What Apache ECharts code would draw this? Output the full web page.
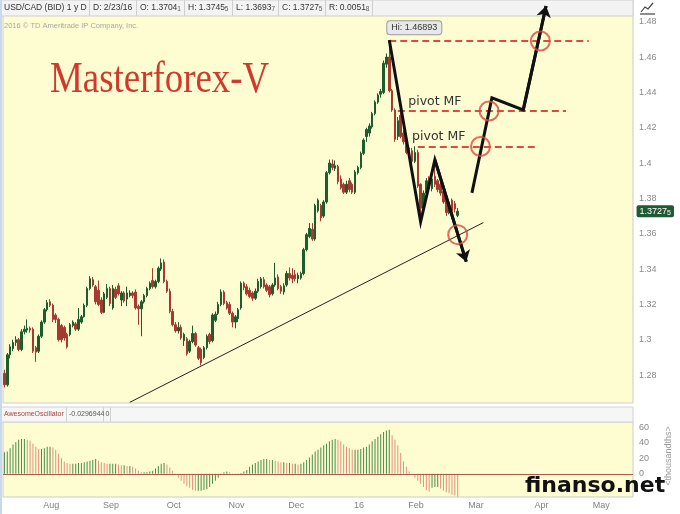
<!DOCTYPE html>
<html>
<head>
<meta charset="utf-8">
<script src="https://cdn.jsdelivr.net/npm/echarts@6/dist/echarts.min.js"></script>
<style>
  html, body { margin: 0; padding: 0; background: #fff; }
  #chart { width: 680px; height: 514px; }
</style>
</head>
<body>
<div id="chart"></div>
<script>
// trading days on the axis (weekdays, minus the two holidays)
var startDay = '2015-07-13', endDay = '2016-05-18';
var skipDays = ['2015-12-25', '2016-01-01'];
var monthLabels = ['Aug', 'Sep', 'Oct', 'Nov', 'Dec', '16', 'Feb', 'Mar', 'Apr', 'May'];
var priceTicks = [1.28, 1.30, 1.32, 1.34, 1.36, 1.38, 1.40, 1.42, 1.44, 1.46, 1.48];
var aoTicks = [0, 20, 40, 60];

// daily candles: open, close, low, high
var candles = [
  [1.2810,1.2745,1.2730,1.2830],[1.2745,1.2915,1.2735,1.2925],[1.2915,1.2960,1.2895,1.2975],[1.2950,1.2985,1.2935,1.3000],
  [1.2985,1.3000,1.2965,1.3020],[1.3000,1.2945,1.2935,1.3010],[1.2945,1.3045,1.2935,1.3060],[1.3045,1.3060,1.3030,1.3080],
  [1.3055,1.3065,1.3040,1.3115],[1.3065,1.3055,1.3040,1.3075],[1.3060,1.2935,1.2925,1.3070],[1.2955,1.2930,1.2875,1.2965],
  [1.2935,1.3020,1.2925,1.3030],[1.3020,1.3100,1.3010,1.3110],[1.3100,1.3170,1.3090,1.3180],[1.3170,1.3210,1.3160,1.3225],
  [1.3215,1.3195,1.3185,1.3230],[1.3195,1.3115,1.3100,1.3205],[1.3140,1.3115,1.3095,1.3150],[1.3115,1.3000,1.2990,1.3125],
  [1.3080,1.3000,1.2985,1.3090],[1.3070,1.3010,1.2995,1.3080],[1.3030,1.2960,1.2950,1.3040],[1.3030,1.3085,1.3020,1.3095],
  [1.3080,1.3100,1.3070,1.3110],[1.3090,1.3060,1.3050,1.3100],[1.3060,1.3115,1.3050,1.3180],[1.3100,1.3130,1.3090,1.3140],
  [1.3130,1.3195,1.3125,1.3205],[1.3195,1.3290,1.3185,1.3300],[1.3290,1.3345,1.3280,1.3360],[1.3340,1.3310,1.3300,1.3355],
  [1.3300,1.3215,1.3200,1.3310],[1.3280,1.3200,1.3190,1.3335],[1.3225,1.3155,1.3145,1.3240],[1.3155,1.3260,1.3150,1.3270],
  [1.3240,1.3290,1.3230,1.3315],[1.3290,1.3205,1.3190,1.3300],[1.3180,1.3290,1.3170,1.3310],[1.3285,1.3240,1.3230,1.3300],
  [1.3305,1.3260,1.3250,1.3320],[1.3225,1.3265,1.3190,1.3275],[1.3265,1.3220,1.3210,1.3275],[1.3230,1.3265,1.3190,1.3300],
  [1.3250,1.3265,1.3240,1.3280],[1.3265,1.3250,1.3235,1.3275],[1.3270,1.3180,1.3170,1.3285],[1.3190,1.3175,1.3085,1.3200],
  [1.3175,1.3215,1.3020,1.3225],[1.3215,1.3250,1.3205,1.3260],[1.3250,1.3290,1.3240,1.3300],[1.3290,1.3320,1.3280,1.3330],
  [1.3335,1.3300,1.3290,1.3405],[1.3300,1.3330,1.3290,1.3340],[1.3330,1.3405,1.3320,1.3415],[1.3400,1.3435,1.3390,1.3460],
  [1.3440,1.3330,1.3320,1.3455],[1.3330,1.3275,1.3265,1.3340],[1.3275,1.3160,1.3150,1.3290],[1.3160,1.3085,1.3075,1.3175],
  [1.3085,1.3050,1.3040,1.3100],[1.3050,1.3070,1.3035,1.3100],[1.3070,1.3010,1.3000,1.3085],[1.2995,1.3030,1.2965,1.3040],
  [1.3005,1.2920,1.2910,1.3015],[1.2935,1.2990,1.2925,1.3000],[1.2990,1.3035,1.2980,1.3080],[1.3035,1.2970,1.2960,1.3045],
  [1.2955,1.2895,1.2885,1.2965],[1.2945,1.2870,1.2855,1.2955],[1.2900,1.2955,1.2890,1.2965],[1.2955,1.3020,1.2945,1.3030],
  [1.3030,1.2990,1.2975,1.3040],[1.2995,1.3140,1.2985,1.3150],[1.3110,1.3145,1.3100,1.3160],[1.3150,1.3200,1.3140,1.3215],
  [1.3200,1.3270,1.3190,1.3285],[1.3270,1.3205,1.3195,1.3280],[1.3210,1.3180,1.3170,1.3220],[1.3200,1.3150,1.3140,1.3215],
  [1.3150,1.3100,1.3070,1.3160],[1.3100,1.3130,1.3065,1.3140],[1.3120,1.3170,1.3100,1.3180],[1.3180,1.3320,1.3170,1.3330],
  [1.3320,1.3295,1.3280,1.3330],[1.3300,1.3260,1.3250,1.3315],[1.3280,1.3245,1.3235,1.3295],[1.3265,1.3235,1.3220,1.3275],
  [1.3235,1.3275,1.3225,1.3290],[1.3275,1.3330,1.3265,1.3345],[1.3300,1.3345,1.3290,1.3355],[1.3340,1.3300,1.3290,1.3355],
  [1.3310,1.3280,1.3270,1.3320],[1.3300,1.3255,1.3240,1.3310],[1.3260,1.3310,1.3250,1.3320],[1.3310,1.3350,1.3300,1.3435],
  [1.3355,1.3290,1.3280,1.3370],[1.3300,1.3275,1.3260,1.3310],[1.3270,1.3305,1.3255,1.3320],[1.3310,1.3375,1.3300,1.3390],
  [1.3375,1.3350,1.3335,1.3410],[1.3365,1.3345,1.3320,1.3405],[1.3370,1.3345,1.3330,1.3395],[1.3345,1.3365,1.3320,1.3380],
  [1.3350,1.3375,1.3340,1.3385],[1.3375,1.3510,1.3365,1.3520],[1.3510,1.3595,1.3500,1.3605],[1.3585,1.3630,1.3575,1.3660],
  [1.3625,1.3570,1.3560,1.3660],[1.3570,1.3760,1.3560,1.3770],[1.3730,1.3790,1.3720,1.3800],[1.3760,1.3690,1.3670,1.3770],
  [1.3700,1.3780,1.3690,1.3790],[1.3780,1.3945,1.3770,1.3955],[1.3945,1.4000,1.3935,1.4020],[1.3995,1.3975,1.3960,1.4020],
  [1.3970,1.3985,1.3955,1.4015],[1.3980,1.3895,1.3880,1.3990],[1.3910,1.3860,1.3850,1.3930],[1.3880,1.3835,1.3825,1.3890],
  [1.3835,1.3880,1.3825,1.3900],[1.3900,1.3850,1.3835,1.3915],[1.3880,1.3835,1.3825,1.3890],[1.3835,1.3950,1.3825,1.3960],
  [1.3945,1.3975,1.3935,1.3985],[1.3975,1.4055,1.3965,1.4065],[1.4055,1.4130,1.4045,1.4140],[1.4150,1.4190,1.4120,1.4200],
  [1.4170,1.4210,1.4150,1.4225],[1.4205,1.4280,1.4195,1.4290],[1.4280,1.4345,1.4270,1.4355],[1.4345,1.4385,1.4335,1.4395],
  [1.4390,1.4405,1.4370,1.4420],[1.4400,1.4565,1.4390,1.4580],[1.4560,1.4600,1.4540,1.4620],[1.4600,1.4410,1.4400,1.46893],
  [1.4410,1.4300,1.4290,1.4420],[1.4300,1.4135,1.4120,1.4310],[1.4150,1.4240,1.4130,1.4260],[1.4270,1.4150,1.4140,1.4300],
  [1.4170,1.4120,1.4105,1.4185],[1.4130,1.4060,1.4050,1.4140],[1.4085,1.4040,1.4030,1.4095],[1.4070,1.4010,1.3995,1.4085],
  [1.4010,1.4060,1.4000,1.4095],[1.4060,1.3870,1.3860,1.4075],[1.3880,1.3745,1.3680,1.3885],[1.3745,1.3830,1.3725,1.3845],
  [1.3830,1.3900,1.3810,1.3915],[1.3900,1.3855,1.3840,1.3925],[1.3855,1.3910,1.3840,1.3920],[1.3925,1.3880,1.3865,1.4005],
  [1.3900,1.3850,1.3835,1.3910],[1.3880,1.3830,1.3815,1.3890],[1.3840,1.3780,1.3770,1.3855],[1.3810,1.3720,1.3700,1.3820],
  [1.3720,1.3775,1.3710,1.3785],[1.3790,1.3730,1.3705,1.3800],[1.3770,1.3740,1.3720,1.3785],[1.3704,1.37275,1.36937,1.37455]
];

// Awesome Oscillator, thousandths
var aoValues = [
  28,29,33,38,41,44,45,45,44,43,39,35,32,32,33,35,35,34,31,26,
  20,16,14,13,13,13,14,14,15,16,17,18,19,17,15,14,13,13,13,13,
  12,11,11,10,10,9,7,4,2,2,2,3,4,7,10,13,14,12,8,4,
  -1,-5,-9,-13,-16,-18,-21,-22,-22,-22,-21,-20,-17,-13,-9,-5,-1,2,3,2,
  0.5,-0.5,0.5,1,3,5,9,12,14,16,18,19,19,18,18,17,16,15,15,14,
  14,13,13,12,13,15,18,21,25,29,31,34,37,39,42,44,45,44,42,38,
  35,33,31,31,31,32,34,35,38,42,45,48,51,54,56,57,50,44,37,27,
  16,9,3,-1,-5,-9,-13,-17,-21,-23,-18,-17,-17,-19,-22,-24,-25,-27,-28,-29.7
];

// hand-drawn annotations, in [day index, price]
var trendLine = [[44, 1.2646], [168, 1.3663]];
var pivotLines = [[135, 205, 1.4691], [138, 197, 1.4295], [145, 187, 1.4092]];
var pivotTexts = [[142, 1.4295], [143, 1.4092]];
var zigDown = [[135, 1.4697], [146, 1.3667], [151, 1.4018], [162, 1.3442]];
var zigUp = [[164, 1.3831], [171, 1.4369], [182, 1.4301], [190, 1.4889]];
var circles = [[159, 1.3595], [167, 1.4094], [170, 1.4295], [188, 1.4691]];
var hiPoint = [135, 1.46893];
var lastPrice = 1.37275;

var days = [];
for (var d = new Date(startDay + 'T00:00:00Z'); d <= new Date(endDay + 'T00:00:00Z'); d.setUTCDate(d.getUTCDate() + 1)) {
  var wd = d.getUTCDay();
  var s = d.toISOString().slice(0, 10);
  if (wd === 0 || wd === 6 || skipDays.indexOf(s) >= 0) continue;
  days.push(s);
}
var monthStart = {};
var m = 0;
for (var i = 1; i < days.length; i++) {
  if (days[i].slice(5, 7) !== days[i - 1].slice(5, 7)) {
    monthStart[i] = monthLabels[m++];
  }
}

var aoBars = aoValues.map(function (v, i) {
  var up = i === 0 || v >= aoValues[i - 1];
  return { value: v, itemStyle: { color: up ? '#4a8a4a' : '#e0917f' } };
});

var dashStyle = { color: '#dc4b40', width: 2, type: [7, 4] };
var markLines = pivotLines.map(function (p) {
  return [{ coord: [p[0], p[2]], lineStyle: dashStyle }, { coord: [p[1], p[2]] }];
});
markLines.push([{ coord: trendLine[0], lineStyle: { color: '#222', width: 1, type: 'solid' } }, { coord: trendLine[1] }]);

var pivotMarks = pivotTexts.map(function (p, k) {
  return {
    coord: p, symbol: 'circle', symbolSize: 0,
    label: {
      show: true, formatter: 'pivot MF', position: [k === 0 ? -1 : 0, k === 0 ? -16 : -17],
      color: '#333', fontSize: 12.5, fontFamily: 'DejaVu Sans'
    }
  };
});
pivotMarks.push({
  coord: hiPoint, symbol: 'circle', symbolSize: 0,
  label: {
    show: true, formatter: 'Hi: 1.46893', position: [-2, -20],
    color: '#333', fontSize: 9, fontFamily: 'Liberation Sans',
    backgroundColor: '#e8e8e8', borderColor: '#9a9a9a', borderWidth: 1, borderRadius: 3,
    padding: [2, 4, 2, 4]
  }
});
// last price tag sits just right of the plot, on the price axis
pivotMarks.push({
  coord: [days.length - 1, lastPrice], symbol: 'circle', symbolSize: 0,
  label: {
    show: true, position: [5, -6], formatter: '1.3727{s|5}',
    backgroundColor: '#1f5a35', color: '#fff', fontSize: 9, padding: [2, 3, 1, 3],
    fontFamily: 'Liberation Sans', borderRadius: 2,
    rich: { s: { fontSize: 7, color: '#fff', padding: [2, 0, 0, 0] } }
  }
});

function txt(x, y, text, opt) {
  var st = { text: text, x: 0, y: 0, fill: '#333', font: '8.5px "Liberation Sans"', verticalAlign: 'middle' };
  for (var k in (opt || {})) st[k] = opt[k];
  return { type: 'text', x: x, y: y, z: 1, silent: true, style: st };
}
function vline(x, y1, y2, color) {
  return { type: 'line', z: 1, silent: true, shape: { x1: x, y1: y1, x2: x, y2: y2 }, style: { stroke: color, lineWidth: 1 } };
}
var subRich = { s: { fontSize: 6.5, fill: '#555', padding: [3, 0, 0, 0] } };
var smallFont = '7px "Liberation Sans"';

var graphics = [
  { type: 'rect', z: 1, silent: true, shape: { x: 0, y: 0, width: 633, height: 16 }, style: { fill: '#f3f3f3', stroke: '#cfcfcf' } },
  vline(89.5, 0, 16, '#cfcfcf'), vline(136.5, 0, 16, '#cfcfcf'), vline(184.5, 0, 16, '#cfcfcf'),
  vline(232.5, 0, 16, '#cfcfcf'), vline(278.5, 0, 16, '#cfcfcf'), vline(325.5, 0, 16, '#cfcfcf'), vline(372.5, 0, 16, '#cfcfcf'),
  txt(4, 8, 'USD/CAD (BID) 1 y D'),
  txt(93, 8, 'D: 2/23/16'),
  txt(140, 8, 'O: 1.3704{s|1}', { rich: subRich }),
  txt(188, 8, 'H: 1.3745{s|5}', { rich: subRich }),
  txt(236, 8, 'L: 1.3693{s|7}', { rich: subRich }),
  txt(282, 8, 'C: 1.3727{s|5}', { rich: subRich }),
  txt(329, 8, 'R: 0.0051{s|8}', { rich: subRich }),
  txt(4, 26, '2016 \u00a9 TD Ameritrade IP Company, Inc.', { fill: '#a8a8a8', font: '7.5px "Liberation Sans"' }),
  { type: 'text', x: 50, y: 80, z: 1, silent: true, scaleX: 0.82,
    style: { text: 'Masterforex-V', fill: '#d0392d', font: '45px "Liberation Serif"', verticalAlign: 'middle' } },
  { type: 'rect', z: 1, silent: true, shape: { x: 0, y: 407, width: 633, height: 15 }, style: { fill: '#f6f6f6', stroke: '#d2d2d2' } },
  vline(66.5, 407, 422, '#d2d2d2'), vline(103.5, 407, 422, '#d2d2d2'), vline(110.5, 407, 422, '#d2d2d2'),
  txt(4, 414.5, 'AwesomeOscillator', { fill: '#a8463b', font: smallFont }),
  txt(69, 414.5, '-0.0296944', { fill: '#555', font: smallFont }),
  txt(105.5, 414.5, '0', { fill: '#555', font: smallFont }),
  { type: 'text', x: 669, y: 456, z: 1, silent: true, rotation: Math.PI / 2,
    style: { text: '<thousandths>', fill: '#9a9a9a', font: '9px "Liberation Sans"', align: 'center', verticalAlign: 'middle' } },
  { type: 'rect', z: 10, silent: true, shape: { x: 0, y: 0, width: 2, height: 514 }, style: { fill: '#c6daee' } },
  { type: 'polyline', z: 1, silent: true, shape: { points: [[641, 12], [645, 7], [648, 9], [653, 3]] }, style: { stroke: '#444', fill: null, lineWidth: 1.2 } },
  { type: 'line', z: 1, silent: true, shape: { x1: 640, y1: 14, x2: 655, y2: 14 }, style: { stroke: '#444', lineWidth: 1.2 } },
  { type: 'text', x: 525, y: 486, z: 100, silent: true,
    style: { text: 'finanso.net', fill: '#111', font: 'bold 22px "DejaVu Sans"', verticalAlign: 'middle' } }
];

var chart = echarts.init(document.getElementById('chart'), null, { renderer: 'canvas' });
chart.setOption({
  animation: false,
  backgroundColor: '#ffffff',
  grid: [
    { left: 3, right: 47, top: 0, height: 403, show: true, backgroundColor: '#fefdd2', borderColor: '#cccccc', borderWidth: 1 },
    { left: 3, right: 47, top: 422, height: 75, show: true, backgroundColor: '#fefdd2', borderColor: '#cccccc', borderWidth: 1 }
  ],
  xAxis: [
    { type: 'category', gridIndex: 0, data: days, boundaryGap: true,
      axisLine: { show: false }, axisTick: { show: false }, axisLabel: { show: false }, splitLine: { show: false } },
    { type: 'category', gridIndex: 1, data: days, boundaryGap: true,
      axisLine: { show: false }, axisTick: { show: false }, splitLine: { show: false },
      axisLabel: {
        show: true, margin: 4, color: '#808080', fontSize: 9, fontFamily: 'Liberation Sans', padding: [0, 0, 0, 8],
        interval: function (idx) { return monthStart[idx] !== undefined; },
        formatter: function (v, idx) { return monthStart[idx] || ''; }
      } }
  ],
  yAxis: [
    { type: 'value', gridIndex: 0, position: 'right', min: 1.2642, max: 1.4923, scale: true,
      axisLine: { show: false }, axisTick: { show: false }, splitLine: { show: false },
      axisLabel: { color: '#888', fontSize: 9, fontFamily: 'Liberation Sans', margin: 6, customValues: priceTicks,
        formatter: function (v) { return String(+v.toFixed(2)); } } },
    { type: 'value', gridIndex: 1, position: 'right', min: -30, max: 67,
      axisLine: { show: false }, axisTick: { show: false }, splitLine: { show: false },
      axisLabel: { color: '#888', fontSize: 9, fontFamily: 'Liberation Sans', margin: 6, customValues: aoTicks } }
  ],
  graphic: graphics,
  series: [
    {
      type: 'candlestick', xAxisIndex: 0, yAxisIndex: 0, data: candles, barWidth: 2, clip: false,
      itemStyle: { color: '#1d5c2b', color0: '#a63a2f', borderColor: '#1d5c2b', borderColor0: '#a63a2f', borderWidth: 1 },
      markLine: { silent: true, symbol: ['none', 'none'], label: { show: false }, animation: false, data: markLines },
      markPoint: { silent: true, animation: false, data: pivotMarks }
    },
    {
      type: 'lines', coordinateSystem: 'cartesian2d', xAxisIndex: 0, yAxisIndex: 0, polyline: true, z: 5, silent: true,
      lineStyle: { color: '#111', width: 3, opacity: 1, join: 'miter' },
      data: [{ coords: zigDown }, { coords: zigUp }]
    },
    {
      type: 'lines', coordinateSystem: 'cartesian2d', xAxisIndex: 0, yAxisIndex: 0, z: 5, silent: true,
      symbol: ['none', 'arrow'], symbolSize: 11,
      lineStyle: { color: '#111', width: 3, opacity: 1 },
      data: [{ coords: zigDown.slice(2) }, { coords: zigUp.slice(2) }]
    },
    {
      type: 'scatter', xAxisIndex: 0, yAxisIndex: 0, z: 6, silent: true, symbol: 'circle', symbolSize: 19,
      itemStyle: { color: 'rgba(0,0,0,0)', borderColor: '#d9493e', borderWidth: 2 },
      data: circles
    },
    {
      type: 'bar', xAxisIndex: 1, yAxisIndex: 1, data: aoBars, barWidth: 1, silent: true,
      markLine: { silent: true, symbol: ['none', 'none'], label: { show: false },
        lineStyle: { color: '#a85a4c', width: 1, type: 'solid' }, data: [{ yAxis: 0 }] }
    }
  ]
});
</script>
</body>
</html>
